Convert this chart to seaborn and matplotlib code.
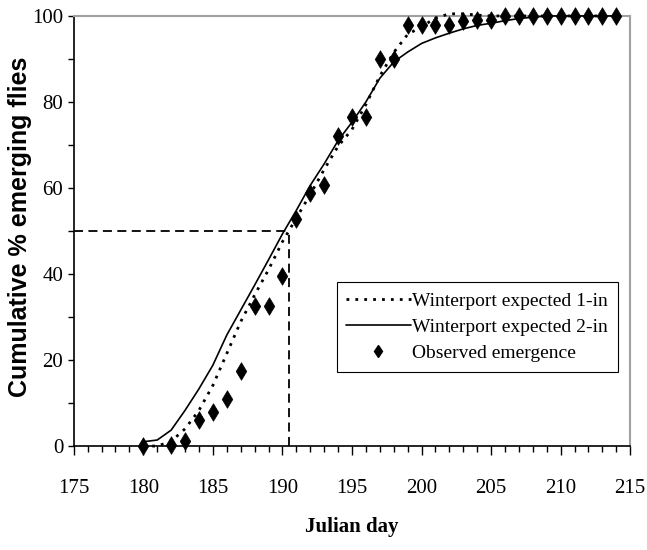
import numpy as np
import pandas as pd
import matplotlib
matplotlib.use("Agg")
import matplotlib.pyplot as plt
from matplotlib.ticker import MultipleLocator
from matplotlib.lines import Line2D
import seaborn as sns

# Julian days covered by the emergence models
model_days = list(range(180, 215))

# Expected cumulative emergence (%) - 1-inch soil depth model
expected_1in = [0.0, 0.0, 1.1, 4.0, 8.3, 14.1, 21.5, 28.9, 35.1, 41.0,
                47.5, 53.0, 58.5, 64.3, 69.7, 73.6, 79.4, 86.0, 91.5, 95.7,
                97.5, 99.5, 100.5, 100.5, 100.2, 100.0, 100.0, 100.0, 100.0, 100.0,
                100.0, 100.0, 100.0, 100.0, 100.0]

# Expected cumulative emergence (%) - 2-inch soil depth model
expected_2in = [1.0, 1.4, 3.7, 8.3, 13.3, 18.8, 25.8, 31.6, 37.4, 43.3,
                49.3, 54.8, 60.6, 65.6, 71.0, 75.3, 80.0, 85.5, 89.3, 91.6,
                93.6, 94.9, 96.0, 97.0, 97.8, 98.3, 98.9, 99.4, 99.7, 100.0,
                100.0, 100.0, 100.0, 100.0, 100.0]

# Observed cumulative emergence (%)
obs_days = [180] + list(range(182, 215))
observed = [0.0, 0.3, 1.2, 6.0, 8.0, 11.0, 17.5, 32.6, 32.6, 39.5,
            52.8, 58.8, 60.7, 72.1, 76.6, 76.6, 90.0, 90.0, 97.9, 97.9,
            97.9, 97.9, 98.8, 99.1, 99.1, 100.0, 100.0, 100.0, 100.0, 100.0,
            100.0, 100.0, 100.0, 100.0]

# Day at which 50 % emergence is reached
median_day = 190.5
median_pct = 50

labels = ["Winterport expected 1-in", "Winterport expected 2-in", "Observed emergence"]

models = pd.DataFrame({"day": model_days, "one_in": expected_1in, "two_in": expected_2in})
obs = pd.DataFrame({"day": obs_days, "pct": observed})

sns.set_style("ticks")
plt.rcParams["font.family"] = ["Liberation Serif", "DejaVu Serif"]
plt.rcParams["text.color"] = "black"
plt.rcParams["axes.labelcolor"] = "black"

fig = plt.figure(figsize=(6.47, 5.5), dpi=100)
ax = fig.add_axes([0.114, 0.189, 0.860, 0.782])

# median reference lines
ax.plot([175, median_day], [median_pct, median_pct], color="black", lw=1.3,
        ls=(0, (5, 3)), zorder=2)
ax.plot([median_day, median_day], [0, median_pct], color="black", lw=1.3,
        ls=(0, (5, 3)), zorder=2)

sns.lineplot(data=models, x="day", y="one_in", ax=ax, color="black", lw=2.0,
             linestyle=(0, (1, 2.2)), clip_on=False, zorder=3)
sns.lineplot(data=models, x="day", y="two_in", ax=ax, color="black", lw=1.2,
             clip_on=False, zorder=3)
sns.scatterplot(data=obs, x="day", y="pct", ax=ax, marker="d", s=80,
                color="black", edgecolor="black", linewidth=0.5,
                clip_on=False, zorder=4)

ax.set_xlim(175, 215)
ax.set_ylim(0, 100)
ax.xaxis.set_major_locator(MultipleLocator(5))
ax.xaxis.set_minor_locator(MultipleLocator(1))
ax.yaxis.set_major_locator(MultipleLocator(20))
ax.yaxis.set_minor_locator(MultipleLocator(10))
ax.tick_params(axis="both", which="both", direction="out", width=1,
               color="black", labelsize=15, labelcolor="black")
ax.tick_params(axis="x", which="major", length=6.5, pad=17)
ax.tick_params(axis="x", which="minor", length=4)
ax.tick_params(axis="y", which="both", length=4.5)
ax.tick_params(axis="y", which="major", pad=3)

for side in ("left", "bottom"):
    ax.spines[side].set_color("black")
    ax.spines[side].set_linewidth(1.2)
for side in ("top", "right"):
    ax.spines[side].set_color("#a0a0a0")
    ax.spines[side].set_linewidth(1.5)
    ax.spines[side].set_visible(True)

ax.set_xlabel("Julian day", fontsize=15, fontweight="bold", labelpad=14,
              color="black")
ax.set_ylabel("Cumulative % emerging flies", fontsize=18, fontweight="bold",
              family=["Liberation Sans", "DejaVu Sans"], color="black")
ax.yaxis.set_label_coords(-0.0755, 0.51)

handles = [
    Line2D([], [], color="black", lw=2.0, linestyle=(0, (1, 2.2))),
    Line2D([], [], color="black", lw=1.2),
    Line2D([], [], color="black", marker="d", linestyle="none", markersize=6),
]
leg = ax.legend(handles, labels, loc="upper right", bbox_to_anchor=(0.978, 0.381),
                fontsize=14, frameon=True, fancybox=False, framealpha=1,
                edgecolor="black", handlelength=3.3, handletextpad=0.1,
                borderpad=0.5, labelspacing=0.45, borderaxespad=0)
leg.get_frame().set_linewidth(0.8)
for t in leg.get_texts():
    t.set_color("black")

fig.savefig("out.png", dpi=100)
